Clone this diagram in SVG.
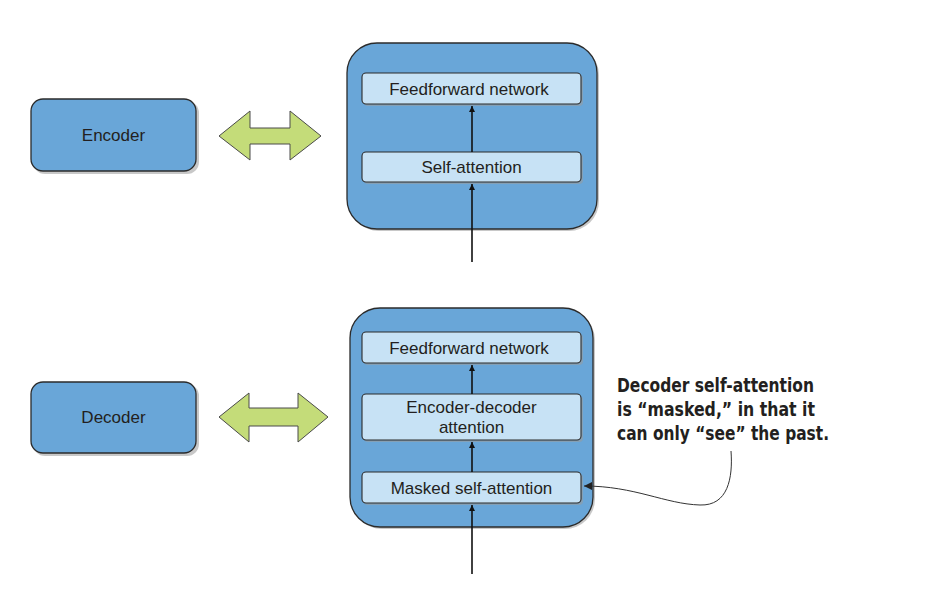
<svg xmlns="http://www.w3.org/2000/svg" width="938" height="596" viewBox="0 0 938 596">
<defs>
<style>
.blk{fill:#69a6d8;stroke:#2b2b2b;stroke-width:1.3}
.shd{fill:#9a9a9a;opacity:0.55}
.inn{fill:#c7e2f5;stroke:#2b2b2b;stroke-width:1.1}
.dbl{fill:#c4dc79;stroke:#4a4a4a;stroke-width:1}
.lbl{font-family:"Liberation Sans",Arial,sans-serif;font-size:17px;fill:#231f20;text-anchor:middle}
.note{font-family:"DejaVu Sans Condensed","DejaVu Sans",sans-serif;font-weight:bold;font-size:19px;fill:#231f20}
.ln{stroke:#111;stroke-width:1.6;fill:none}
.thin{stroke:#333;stroke-width:1;fill:none}
</style>
<marker id="ah" viewBox="0 0 10 10" refX="10" refY="5" markerWidth="6" markerHeight="8" markerUnits="userSpaceOnUse" orient="auto"><path d="M0,0 L10,5 L0,10 z" fill="#111"/></marker>
<marker id="ah2" viewBox="0 0 10 10" refX="10" refY="5" markerWidth="9" markerHeight="8" markerUnits="userSpaceOnUse" orient="auto"><path d="M0,0 L10,5 L0,10 z" fill="#222"/></marker>
</defs>

<g id="encoder">
<rect class="shd" x="33" y="101" width="166" height="73" rx="12"/>
<rect class="blk" x="31" y="99" width="165" height="72" rx="12"/>
<text class="lbl" x="113.5" y="141">Encoder</text>
</g>

<g id="enc-double-arrow">
<polygon class="dbl" points="219,136 250,111 250,128 290,128 290,111 321,136 290,160 290,144 250,144 250,160"/>
</g>

<g id="encoder-block">
<rect class="shd" x="349" y="45" width="250" height="186" rx="30"/>
<rect class="blk" x="347" y="43" width="250" height="186" rx="30"/>
</g>
<g id="enc-ffn">
<rect class="shd" x="364" y="75" width="219" height="31" rx="4"/>
<rect class="inn" x="362" y="73" width="219" height="31" rx="4"/>
<text class="lbl" x="469" y="94.5">Feedforward network</text>
</g>
<g id="enc-sa">
<rect class="shd" x="364" y="154" width="219" height="30" rx="4"/>
<rect class="inn" x="362" y="152" width="219" height="30" rx="4"/>
<text class="lbl" x="471.5" y="173">Self-attention</text>
</g>

<g id="decoder">
<rect class="shd" x="33" y="384" width="166" height="72" rx="12"/>
<rect class="blk" x="31" y="382" width="165" height="71" rx="12"/>
<text class="lbl" x="113.5" y="423">Decoder</text>
</g>

<g id="dec-double-arrow">
<polygon class="dbl" points="219,417 249,393 249,408 298,408 298,393 328,417 298,442 298,426 249,426 249,442"/>
</g>

<g id="decoder-block">
<rect class="shd" x="352" y="310" width="243" height="219" rx="30"/>
<rect class="blk" x="350" y="308" width="243" height="219" rx="30"/>
</g>
<g id="dec-ffn">
<rect class="shd" x="364" y="334" width="219" height="31" rx="4"/>
<rect class="inn" x="362" y="332" width="219" height="31" rx="4"/>
<text class="lbl" x="469" y="353.5">Feedforward network</text>
</g>
<g id="dec-eda">
<rect class="shd" x="364" y="396" width="219" height="46" rx="4"/>
<rect class="inn" x="362" y="394" width="219" height="46" rx="4"/>
<text class="lbl" x="471.5" y="413">Encoder-decoder</text>
<text class="lbl" x="471.5" y="433">attention</text>
</g>
<g id="dec-msa">
<rect class="shd" x="364" y="474" width="219" height="31" rx="4"/>
<rect class="inn" x="362" y="472" width="219" height="31" rx="4"/>
<text class="lbl" x="471.5" y="493.5">Masked self-attention</text>
</g>

<g id="note">
<text class="note" x="617" y="392" textLength="197" lengthAdjust="spacingAndGlyphs">Decoder self-attention</text>
<text class="note" x="617" y="416" textLength="198" lengthAdjust="spacingAndGlyphs">is “masked,” in that it</text>
<text class="note" x="617" y="440" textLength="212" lengthAdjust="spacingAndGlyphs">can only “see” the past.</text>
</g>

<g id="connectors">
<line class="ln" x1="472" y1="152" x2="472" y2="106" marker-end="url(#ah)"/>
<line class="ln" x1="472" y1="262" x2="472" y2="184" marker-end="url(#ah)"/>
<line class="ln" x1="472" y1="394" x2="472" y2="365" marker-end="url(#ah)"/>
<line class="ln" x1="472" y1="472" x2="472" y2="442" marker-end="url(#ah)"/>
<line class="ln" x1="472" y1="574" x2="472" y2="505" marker-end="url(#ah)"/>
<path class="thin" d="M731,451 C733,478 728,506 700,505 C665,504 635,486 584,486" marker-end="url(#ah2)"/>
</g>
</svg>
